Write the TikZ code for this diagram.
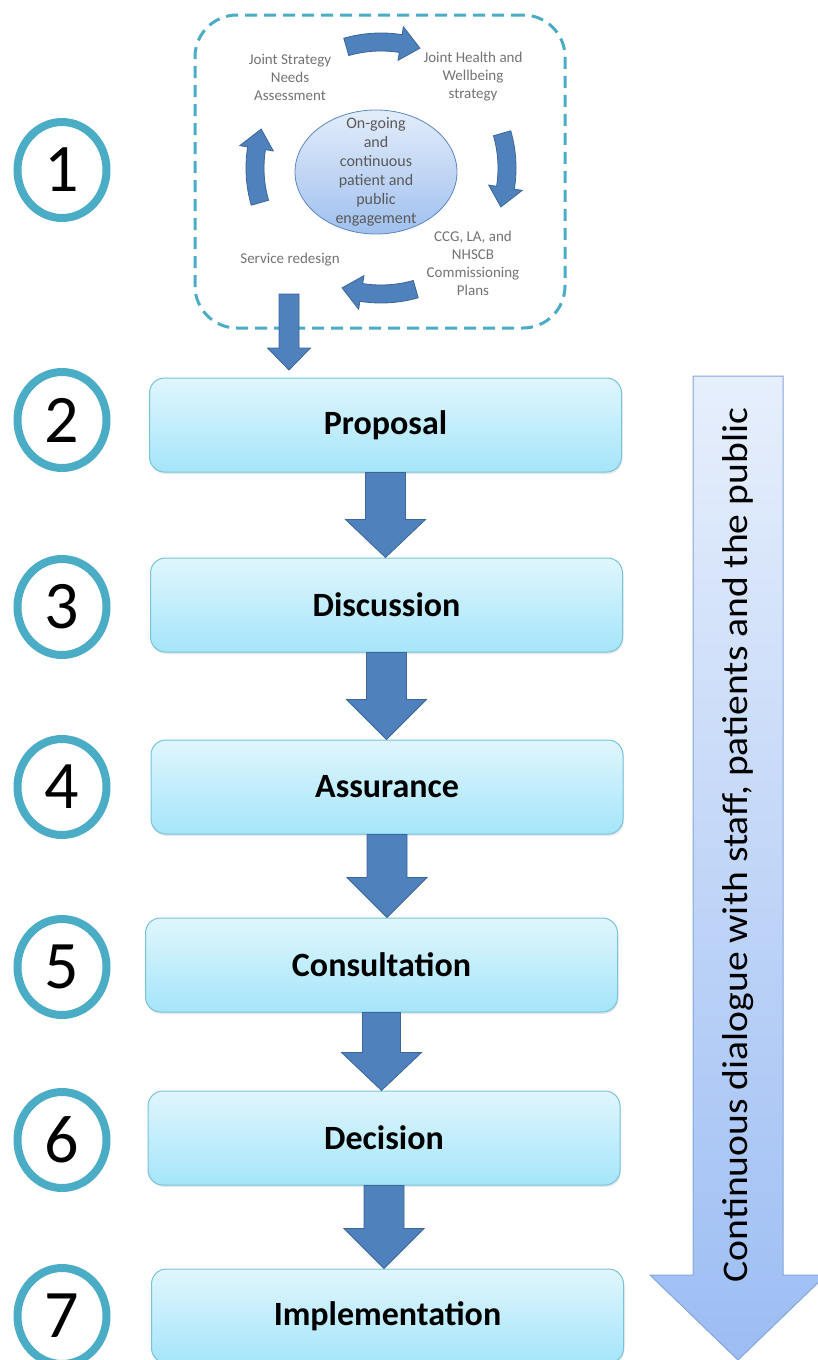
\documentclass[tikz,border=0pt]{standalone}
\usepackage{fontspec}
\setmainfont{Carlito}
\usetikzlibrary{shapes.geometric,shadows,calc}
\definecolor{ring}{HTML}{4BACC6}
\definecolor{boxtop}{HTML}{E0F6FD}
\definecolor{boxbot}{HTML}{A5E5FA}
\definecolor{boxline}{HTML}{78C3D9}
\definecolor{arrfill}{HTML}{4F81BD}
\definecolor{arrline}{HTML}{3B6699}
\definecolor{bigtop}{HTML}{E7EFFC}
\definecolor{bigbot}{HTML}{9CBDF3}
\definecolor{bigline}{HTML}{86A5DA}
\definecolor{elltop}{HTML}{E3EDFB}
\definecolor{ellbot}{HTML}{A0C0EE}
\definecolor{ellline}{HTML}{5B87C5}
\definecolor{cyctext}{HTML}{737373}
\definecolor{engtext}{HTML}{595959}
\newcommand\flowarrow[5]{%
  \path[blockarrow] let \p1=(#1), \p2=(#2) in
    ({\x1-#3},\y1) -- ({\x1+#3},\y1) -- ({\x1+#3},{\y2+#5}) -- ({\x1+#4},{\y2+#5})
    -- (\x1,\y2) -- ({\x1-#4},{\y2+#5}) -- ({\x1-#3},{\y2+#5}) -- cycle;}
\newcommand\cycarrow[1]{%
  \path[blockarrow] ({#1+16}:135pt) arc[start angle={#1+16}, end angle={#1-9}, radius=135pt]
    -- ({#1-9}:143pt) -- ({#1-18}:126pt) -- ({#1-9}:109pt) -- ({#1-9}:117pt)
    arc[start angle={#1-9}, end angle={#1+16}, radius=117pt] -- cycle;}
\begin{document}
\begin{tikzpicture}[x=1pt,y=-1pt,
  ringnode/.style={ellipse, draw=ring, line width=8pt, minimum width=89pt, minimum height=96pt,
    inner sep=0pt, font=\fontsize{68}{68}\selectfont},
  stepbox/.style={rounded corners=15pt, draw=boxline, line width=1pt, top color=boxtop,
    bottom color=boxbot, minimum width=472pt, minimum height=94pt, inner sep=0pt,
    font=\bfseries\fontsize{34}{34}\selectfont,
    drop shadow={opacity=0.18, shadow xshift=1pt, shadow yshift=-2pt}},
  blockarrow/.style={fill=arrfill, draw=arrline, line width=0.8pt, line join=miter},
  cyclabel/.style={align=center, text=cyctext, font=\fontsize{15}{18}\selectfont, inner sep=0pt}]
\useasboundingbox (0,0) rectangle (818,1360);
\clip (0,0) rectangle (818,1360);
\fill[white] (0,0) rectangle (818,1360);

% number rings
\node[ringnode] (n1) at (62,170) {1};
\node[ringnode] (n2) at (62,420) {2};
\node[ringnode] (n3) at (62,607) {3};
\node[ringnode] (n4) at (62,787) {4};
\node[ringnode] (n5) at (62,967) {5};
\node[ringnode] (n6) at (62,1140) {6};
\node[ringnode] (n7) at (62,1316) {7};

% cycle box
\node[draw=ring, line width=3pt, dash pattern=on 12pt off 7pt, rounded corners=42pt,
  minimum width=370pt, minimum height=313pt] (cyc) at (380,171.5) {};
\node[ellipse, draw=ellline, line width=0.8pt, top color=elltop, bottom color=ellbot,
  minimum width=162pt, minimum height=124pt] (eng) at (376,172) {};
\node[align=center, text=engtext, font=\fontsize{16}{19}\selectfont, inner sep=0pt] (engt) at (eng.center)
  {On-going\\and\\continuous\\patient and\\public\\engagement};
\node[cyclabel] (jsna) at (290,77) {Joint Strategy\\Needs\\Assessment};
\node[cyclabel] (jhws) at (473,77) {Joint Health and\\Wellbeing\\strategy};
\node[cyclabel] (ccg) at (473,263) {CCG, LA, and\\NHSCB\\Commissioning\\Plans};
\node[cyclabel] (srd) at (290,260) {Service redesign};
\begin{scope}[shift={(381,168)}]
  \cycarrow{90}
  \cycarrow{0}
  \cycarrow{-90}
  \cycarrow{180}
\end{scope}

% big side arrow
\path[top color=bigtop, bottom color=bigbot, draw=bigline, line width=1pt]
  (693,376) -- (783,376) -- (783,1275) -- (826,1275) -- (738,1360) -- (650,1275) -- (693,1275) -- cycle;
\node[rotate=90, font=\fontsize{36}{36}\selectfont, inner sep=0pt] (dlg) at (738,845)
  {\scalebox{1.1}[1]{Continuous dialogue with staff, patients and the public}};

% steps
\node[stepbox] (p2) at (385.5,425) {Proposal};
\node[stepbox] (p3) at (386.5,605) {Discussion};
\node[stepbox] (p4) at (387,787) {Assurance};
\node[stepbox] (p5) at (381.5,965) {Consultation};
\node[stepbox] (p6) at (384,1138) {Decision};
\node[stepbox] (p7) at (387.5,1316) {Implementation};

% arrows
\coordinate (s1) at (289,294);
\coordinate (t1) at (289,370);
\flowarrow{s1}{t1}{10pt}{21.5pt}{22pt}
\flowarrow{p2.south}{p3.north}{20pt}{40pt}{38pt}
\flowarrow{p3.south}{p4.north}{20pt}{40pt}{40pt}
\flowarrow{p4.south}{p5.north}{20pt}{40pt}{40pt}
\flowarrow{p5.south}{p6.north}{19pt}{40pt}{38pt}
\flowarrow{p6.south}{p7.north}{20pt}{40pt}{40pt}
\end{tikzpicture}
\end{document}
